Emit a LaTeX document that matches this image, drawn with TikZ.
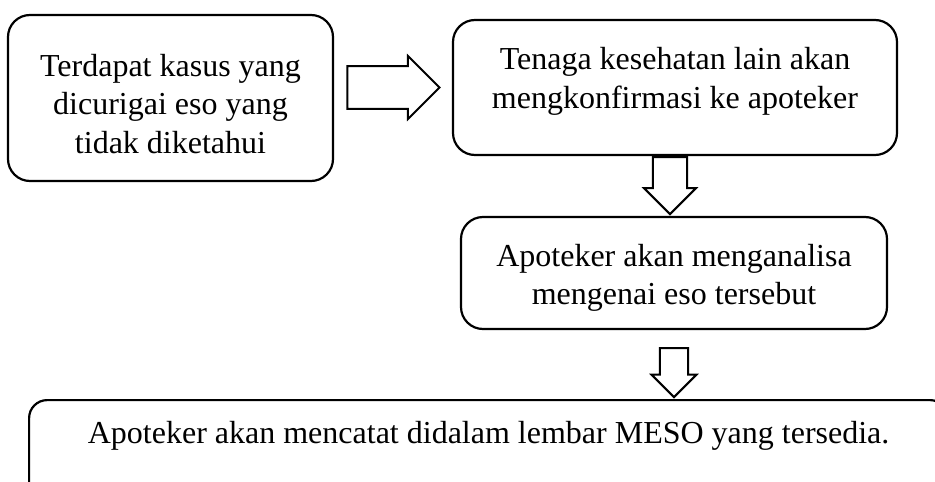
\documentclass[tikz,border=0pt]{standalone}
\usepackage{fontspec}
\setmainfont{Liberation Serif}
\usetikzlibrary{positioning,shapes.arrows}
\begin{document}
\begin{tikzpicture}[x=1pt,y=1pt,yscale=-1,
  kotak/.style={draw, line width=2.2pt, rounded corners=22pt, align=center, font=\fontsize{32}{38.5}\selectfont},
  panah/.style={draw, single arrow, line width=2pt, inner sep=0pt}]
  \useasboundingbox (0,0) rectangle (935,482);
  % kotak alur
  \node[kotak, minimum width=325pt, minimum height=166pt] (kasus) at (170.5,98) {\rule{0pt}{34pt}Terdapat kasus yang\\dicurigai eso yang\\tidak diketahui};
  \node[kotak, minimum width=444pt, minimum height=135pt] (tenaga) at (675,87.5) {Tenaga kesehatan lain akan\\mengkonfirmasi ke apoteker\rule[-19pt]{0pt}{19pt}};
  \node[kotak, minimum width=426pt, minimum height=112pt] (analisa) at (674,273) {\rule{0pt}{32pt}Apoteker akan menganalisa\\mengenai eso tersebut};
  \node[kotak, rounded corners=18pt, anchor=north west, minimum width=919pt, inner sep=0pt, text height=43pt, text depth=73pt] (catat) at (28,399) {Apoteker akan mencatat didalam lembar MESO yang tersedia.};
  % panah blok
  \node[panah, inner ysep=14pt, minimum width=63pt, minimum height=92pt, left=11pt of tenaga.west] (panahA) {};
  \node[panah, shape border rotate=270, inner xsep=12.5pt, minimum width=52pt, minimum height=57pt, below=0pt of tenaga.south, xshift=-5pt] (panahB) {};
  \node[panah, shape border rotate=270, inner xsep=11pt, minimum width=45pt, minimum height=49pt, below=17pt of analisa.south] (panahC) {};
\end{tikzpicture}
\end{document}
